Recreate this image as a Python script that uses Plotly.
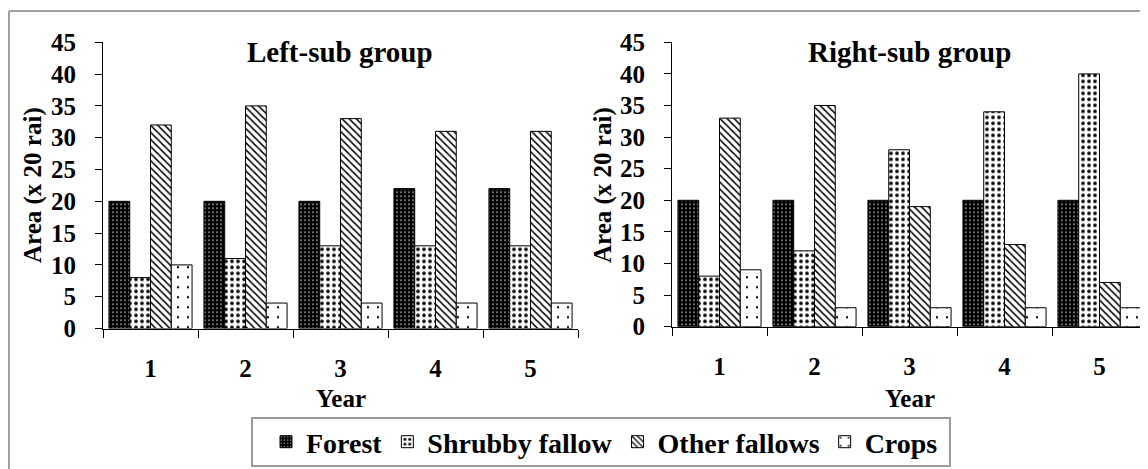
import plotly.graph_objects as go

# chart data
years = ["1", "2", "3", "4", "5"]
series_names = ["Forest", "Shrubby fallow", "Other fallows", "Crops"]

left_forest = [20, 20, 20, 22, 22]
left_shrubby = [8, 11, 13, 13, 13]
left_other = [32, 35, 33, 31, 31]
left_crops = [10, 4, 4, 4, 4]

right_forest = [20, 20, 20, 20, 20]
right_shrubby = [8, 12, 28, 34, 40]
right_other = [33, 35, 19, 13, 7]
right_crops = [9, 3, 3, 3, 3]

W, H = 1148, 469
FONT = "Liberation Serif, Times New Roman, serif"


# page body adds an 8px offset, so layout positions are given in figure pixels
def px(x):
    return x / W


def py(y):
    return (H - y) / H


# fill patterns, one per series (black/white like the print original)
patterns = {
    "Forest": dict(shape=".", bgcolor="black", fgcolor="white", size=4, solidity=0.12, fillmode="replace"),
    "Shrubby fallow": dict(shape=".", bgcolor="white", fgcolor="black", size=6, solidity=0.3, fillmode="replace"),
    "Other fallows": dict(shape="\\", bgcolor="white", fgcolor="black", size=5, solidity=0.3, fillmode="replace"),
    "Crops": dict(shape=".", bgcolor="white", fgcolor="black", size=10, solidity=0.04, fillmode="replace"),
}
bar_colors = {"Forest": "black", "Shrubby fallow": "white", "Other fallows": "white", "Crops": "white"}

fig = go.Figure()

left_vals = [left_forest, left_shrubby, left_other, left_crops]
right_vals = [right_forest, right_shrubby, right_other, right_crops]

for name, vals in zip(series_names, left_vals):
    fig.add_trace(go.Bar(x=years, y=vals, name=name, legendgroup=name,
                         marker=dict(color=bar_colors[name], pattern=patterns[name],
                                     line=dict(color="black", width=1)),
                         xaxis="x", yaxis="y"))

for name, vals in zip(series_names, right_vals):
    fig.add_trace(go.Bar(x=years, y=vals, name=name, legendgroup=name, showlegend=False,
                         marker=dict(color=bar_colors[name], pattern=patterns[name],
                                     line=dict(color="black", width=1)),
                         xaxis="x2", yaxis="y2"))

tick_font = dict(family=FONT, size=25, weight="bold")
xaxis_style = dict(type="category", tickson="boundaries", ticks="outside", ticklen=8,
                   tickcolor="black", showline=True, linecolor="black", linewidth=1,
                   showgrid=False, ticklabelstandoff=17, automargin=False, tickfont=tick_font)
yaxis_style = dict(range=[0, 45], dtick=5, ticks="outside", ticklen=7, tickcolor="black",
                   showline=True, linecolor="black", linewidth=1, showgrid=False,
                   zeroline=False, ticklabelstandoff=14, automargin=False, tickfont=tick_font)

fig.update_layout(
    width=W, height=H,
    margin=dict(l=0, r=0, t=0, b=0),
    paper_bgcolor="white", plot_bgcolor="white",
    font=dict(family=FONT, size=25, color="black", weight="bold"),
    barmode="group", bargap=0.125, bargroupgap=0,
    xaxis=dict(domain=[px(95), px(570)], anchor="y", **xaxis_style),
    yaxis=dict(domain=[py(320.5), py(34.3)], anchor="x", **yaxis_style),
    xaxis2=dict(domain=[px(664), px(1139)], anchor="y2", **xaxis_style),
    yaxis2=dict(domain=[py(318.7), py(34.3)], anchor="x2", **yaxis_style),
    legend=dict(orientation="h", x=px(258), xanchor="left", y=py(434), yanchor="middle",
                borderwidth=0, bgcolor="rgba(0,0,0,0)",
                font=dict(family=FONT, size=28, weight="bold"), itemwidth=30, traceorder="normal"),
    showlegend=True,
)

# panel titles, axis titles
title_font = dict(family=FONT, size=29, weight="bold")
fig.add_annotation(text="Left-sub group", x=px(332), y=py(44), xref="paper", yref="paper",
                   xanchor="center", yanchor="middle", showarrow=False, font=title_font)
fig.add_annotation(text="Right-sub group", x=px(901.5), y=py(44), xref="paper", yref="paper",
                   xanchor="center", yanchor="middle", showarrow=False, font=title_font)
for xc in (332.5, 901.5):
    fig.add_annotation(text="Year", x=px(xc), y=py(390), xref="paper", yref="paper",
                       xanchor="center", yanchor="middle", showarrow=False, font=tick_font)
for xc in (25, 595):
    fig.add_annotation(text="Area (x 20 rai)", x=px(xc), y=py(177), xref="paper", yref="paper",
                       xanchor="center", yanchor="middle", textangle=-90, showarrow=False,
                       font=tick_font)

# legend frame
fig.add_shape(type="rect", xref="paper", yref="paper", x0=px(244), x1=px(942), y0=py(458), y1=py(410),
              line=dict(color="#9a9a9a", width=2), fillcolor="rgba(0,0,0,0)")

# outer chart-area frame (only top and left edges are inside the picture)
fig.add_shape(type="line", xref="paper", yref="paper", x0=px(1), x1=1.0, y0=py(3), y1=py(3),
              line=dict(color="#a0a0a0", width=2))
fig.add_shape(type="line", xref="paper", yref="paper", x0=px(1), x1=px(1), y0=0, y1=py(3),
              line=dict(color="#a0a0a0", width=2))

fig.write_html("out.html")
